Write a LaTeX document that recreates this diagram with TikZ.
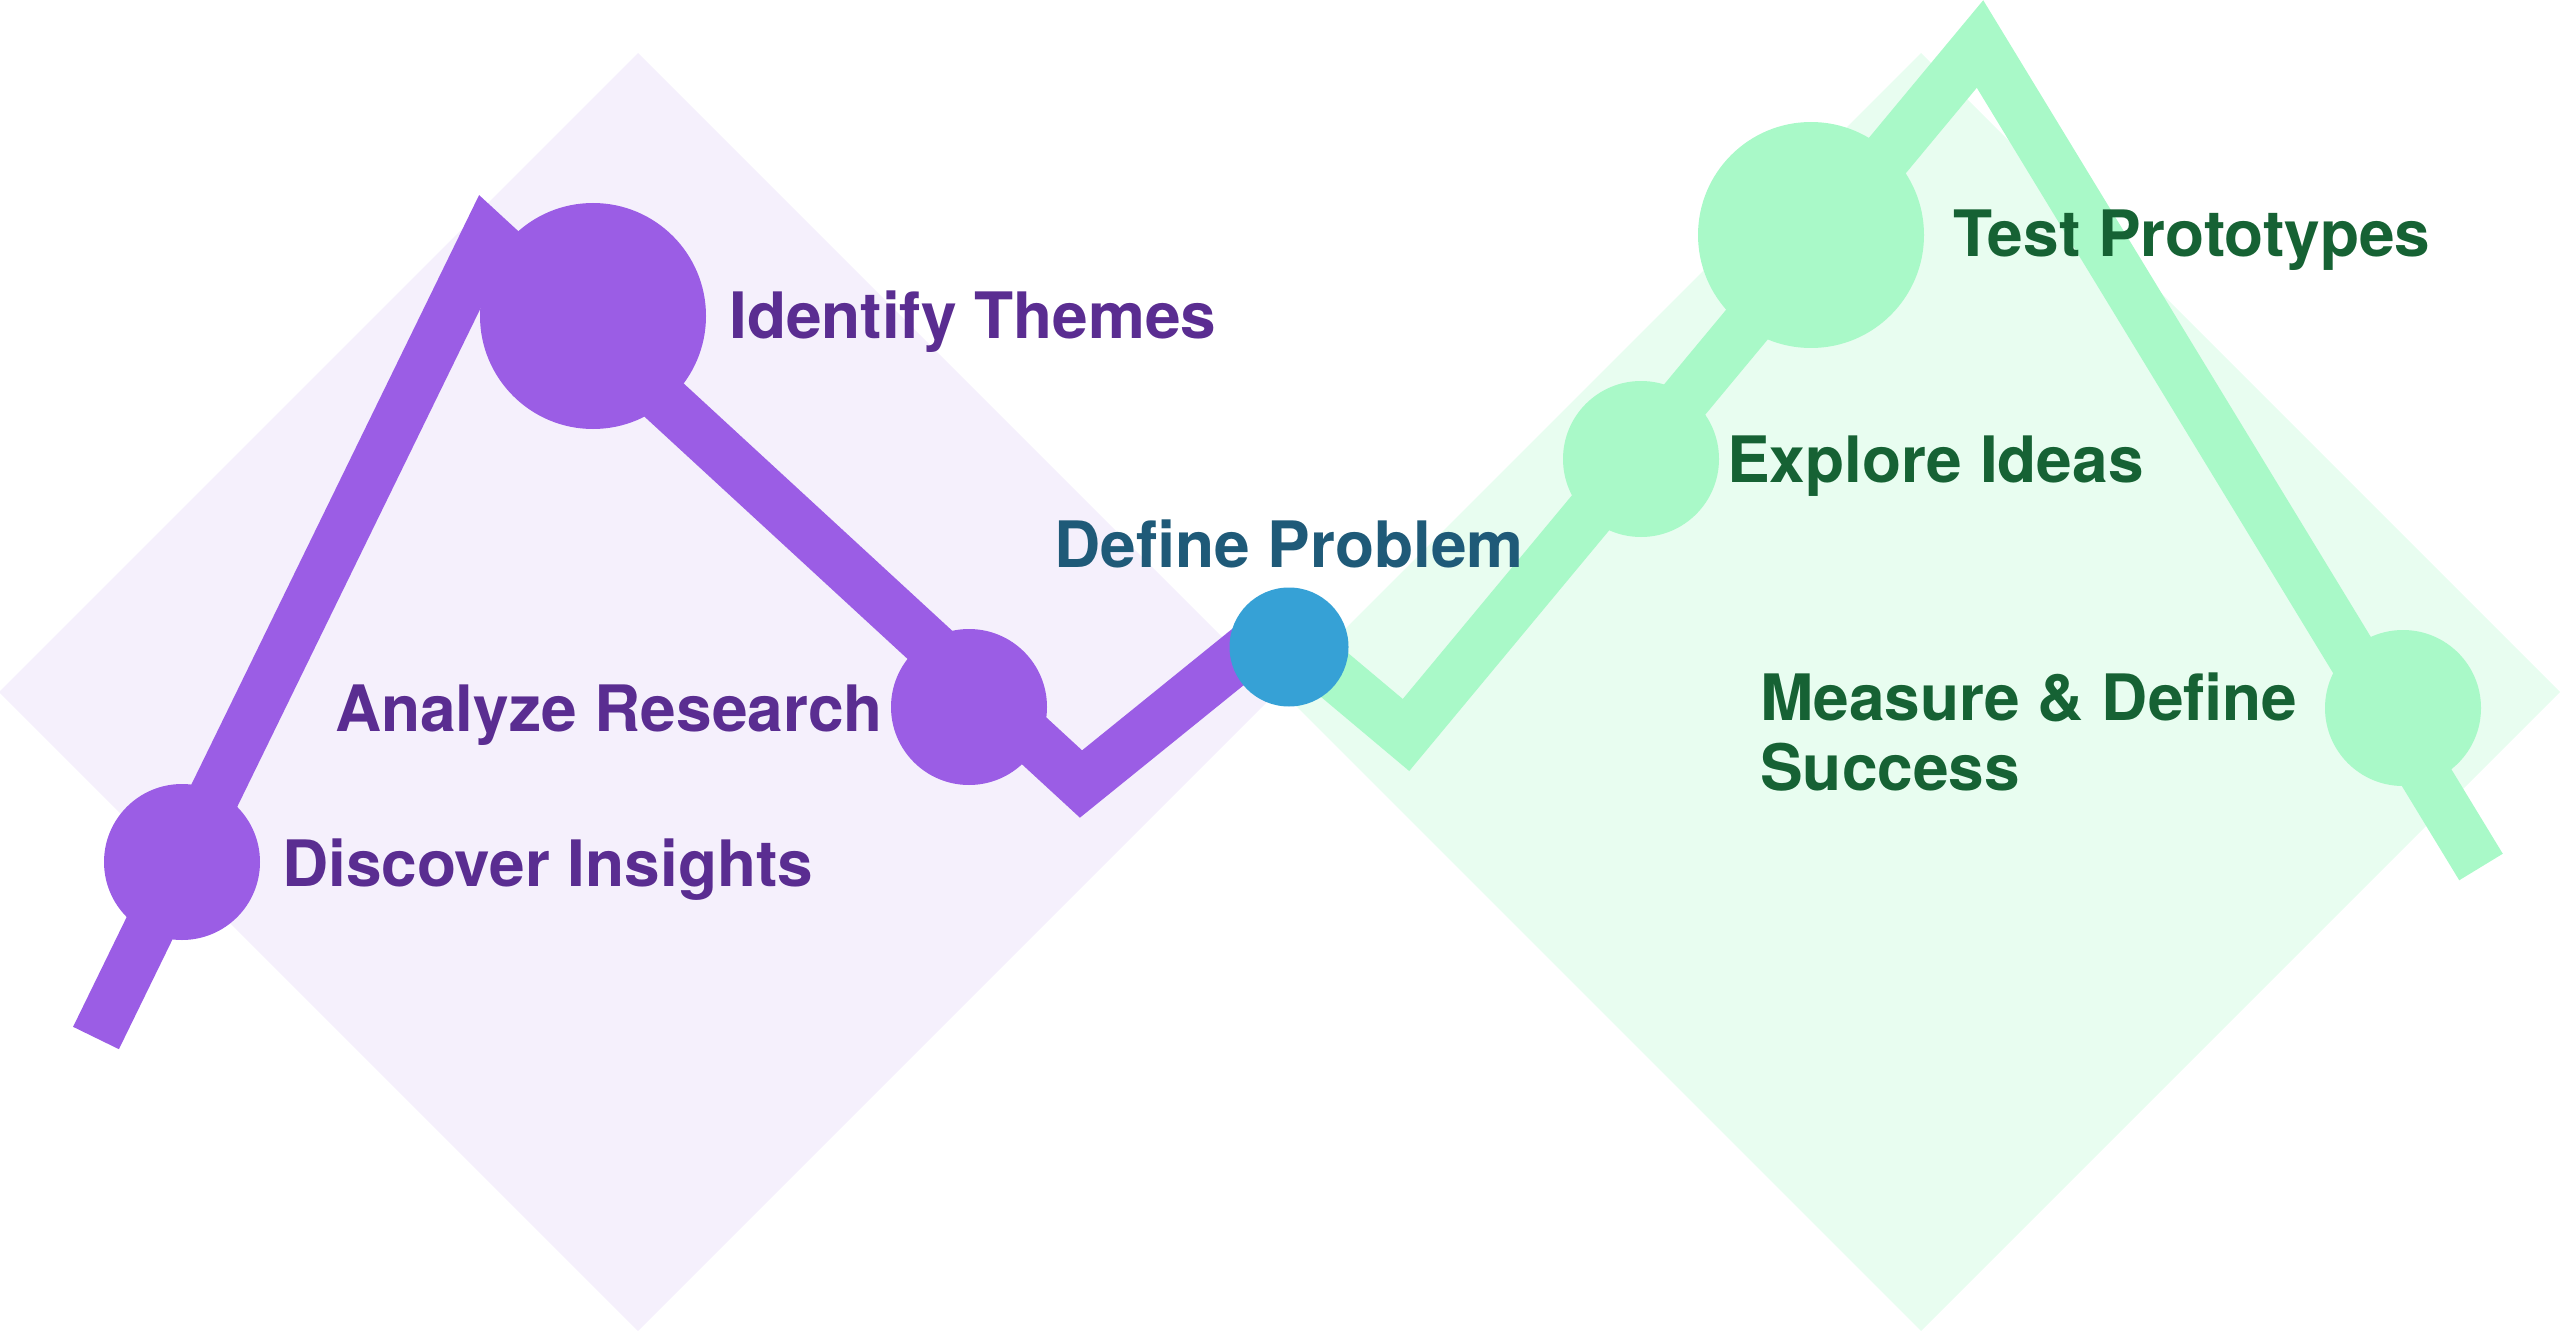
\documentclass[tikz,border=0pt]{standalone}
\usepackage{fontspec}
\setmainfont{TeX Gyre Heros}
\usetikzlibrary{positioning}
\definecolor{discpurple}{HTML}{9B5DE5}
\definecolor{discbg}{HTML}{F5F0FC}
\definecolor{discink}{HTML}{5A2D91}
\definecolor{devgreen}{HTML}{A9F9C8}
\definecolor{devbg}{HTML}{E8FDF0}
\definecolor{devink}{HTML}{166234}
\definecolor{defblue}{HTML}{36A1D6}
\definecolor{defink}{HTML}{1F5A78}
\begin{document}
\begin{tikzpicture}[x=1pt,y=-1pt,
  dot/.style={circle,inner sep=0pt,fill=#1},
  lbl/.style={inner sep=0pt,font=\fontsize{64}{70}\selectfont\bfseries},
  track/.style={line width=51pt,line join=miter,draw=#1}]
\useasboundingbox (0,0) rectangle (2560,1332);
% the two diamonds
\fill[discbg] (638,53) -- (1277,692) -- (638,1331) -- (-1,692) -- cycle;
\fill[devbg] (1921,53) -- (2560,692) -- (1921,1331) -- (1282,692) -- cycle;
% bends of the two tracks
\coordinate (pstart) at (96,1038);
\coordinate (ppeak) at (487,237);
\coordinate (pvalley) at (1081,784);
\coordinate (pend) at (1280,623);
\coordinate (gstart) at (1300,646);
\coordinate (gvalley) at (1406,735);
\coordinate (gpeak) at (1980,44);
\coordinate (gend) at (2481,867);
\draw[track=discpurple] (pstart) -- (ppeak) -- (pvalley) -- (pend);
\draw[track=devgreen] (gstart) -- (gvalley) -- (gpeak) -- (gend);
% stops
\node[dot=discpurple,minimum size=156pt] (discover) at (182,862) {};
\node[dot=discpurple,minimum size=226pt] (identify) at (593,316) {};
\node[dot=discpurple,minimum size=156pt] (analyze) at (969,707) {};
\node[dot=devgreen,minimum size=156pt] (explore) at (1641,459) {};
\node[dot=devgreen,minimum size=226pt] (test) at (1811,235) {};
\node[dot=devgreen,minimum size=156pt] (measure) at (2403,708) {};
\node[dot=defblue,minimum size=119pt] (define) at (1289,647) {};
% labels
\node[lbl,text=discink,anchor=base west] (discoverlbl) at (282,886) {Discover Insights};
\node[lbl,text=discink,anchor=base west] (identifylbl) at (729,338) {Identify Themes};
\node[lbl,text=discink,anchor=base east] (analyzelbl) at (883,731) {Analyze Research};
\node[lbl,text=defink,anchor=base] (definelbl) at (1289,567) {Define Problem};
\node[lbl,text=devink,anchor=base west] (explorelbl) at (1727,482) {Explore Ideas};
\node[lbl,text=devink,anchor=base west] (testlbl) at (1953,257) {Test Prototypes};
\node[lbl,text=devink,anchor=north west,align=left] (measurelbl) at (1760,673) {Measure \& Define\\Success};
\end{tikzpicture}
\end{document}
